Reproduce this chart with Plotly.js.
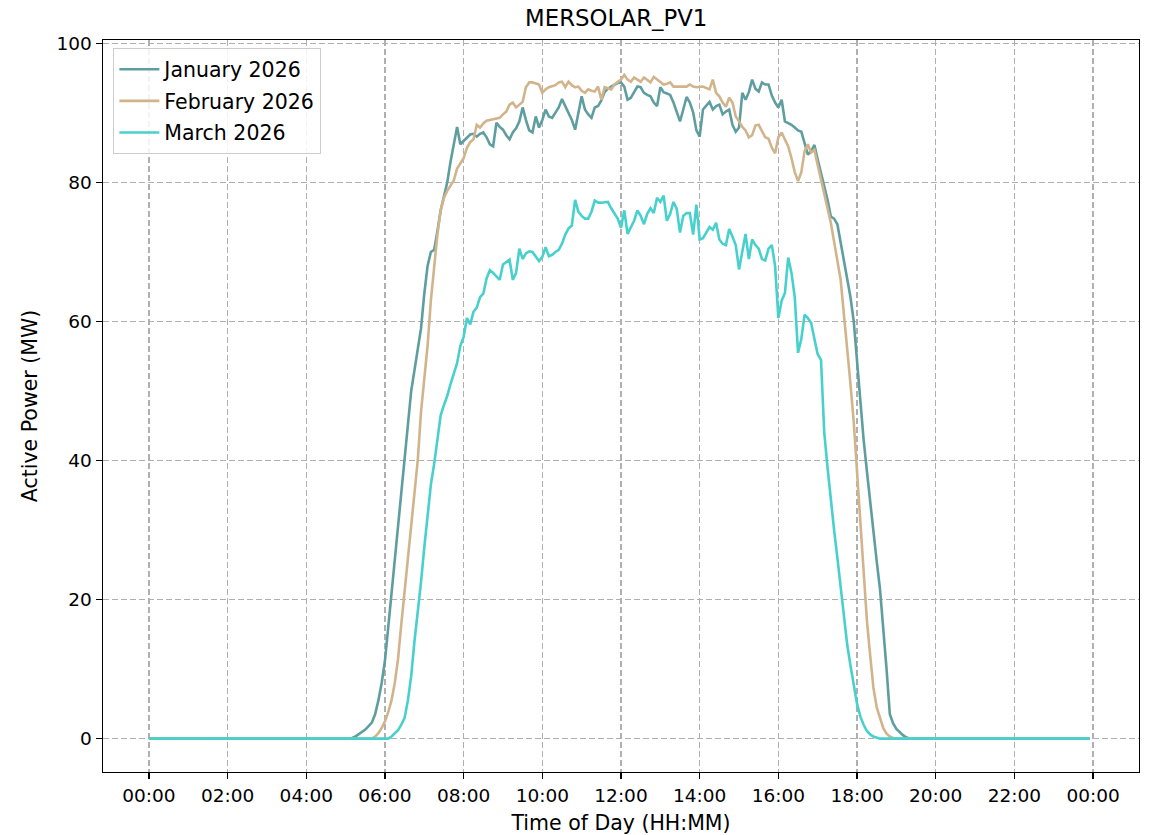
<!DOCTYPE html>
<html>
<head>
<meta charset="utf-8">
<script src="https://cdn.plot.ly/plotly-3.0.1.min.js"></script>
<style>html,body{margin:0;padding:0;background:#fff;}#chart{width:1155px;height:835px;}</style>
</head>
<body>
<div id="chart"></div>
<script>
// Series names
const seriesNames = ['January 2026', 'February 2026', 'March 2026'];

// Active power (MW), one value every 5 minutes from 00:00 to 23:55 (rows = hours)
const january2026 = [
  0,0,0,0,0,0,0,0,0,0,0,0,
  0,0,0,0,0,0,0,0,0,0,0,0,
  0,0,0,0,0,0,0,0,0,0,0,0,
  0,0,0,0,0,0,0,0,0,0,0,0,
  0,0,0,0,0,0,0,0,0,0,0,0,
  0,0,0.1,0.3,0.6,0.9,1.3,1.8,2.3,3.5,5.5,8.0,
  11.2,16,21,26,30,35.5,41,46,50,53,56,59,
  64,68,70,70.3,73,76,78,80,83,85.5,88,85.5,
  86,86.5,86.9,87,86.6,87,87.2,86.5,85.5,85.2,88.6,88,
  87.6,86.8,86.2,87.2,87.8,88.8,90.8,89,87.5,87.2,89.5,87.9,
  89,90.5,89.5,89.3,90,90.8,92,91,89.8,89,87.6,90,
  92.4,90.5,89.8,89.3,90.8,91,91.8,93,93.5,93.8,94.1,94.3,
  94.4,93.8,91.9,92.2,93,93.8,93.7,92.9,92.6,92.4,91.5,91,
  93.7,93,92.8,92.6,91.5,90,88.8,90.5,92.3,91.5,90.1,87.5,
  86.6,90.5,91,91.6,90.5,91,91.2,89.8,90.2,90.5,88.3,87.3,
  87.9,92.9,91.9,93,94.8,93.5,93.1,94.4,94.1,94.1,92.5,91.5,
  90.8,91.9,88.8,88.6,88.3,87.9,87.5,87.3,85.7,84.0,84.5,85.4,
  83.3,81.5,79.5,77.5,75.1,74.8,74,71.5,68.5,66,63.5,60,
  54,48.5,43,38.5,34,29.6,25.5,21.5,16,10,3.5,2.2,
  1.4,0.9,0.5,0.2,0,0,0,0,0,0,0,0,
  0,0,0,0,0,0,0,0,0,0,0,0,
  0,0,0,0,0,0,0,0,0,0,0,0,
  0,0,0,0,0,0,0,0,0,0,0,0,
  0,0,0,0,0,0,0,0,0,0,0,0
];

const february2026 = [
  0,0,0,0,0,0,0,0,0,0,0,0,
  0,0,0,0,0,0,0,0,0,0,0,0,
  0,0,0,0,0,0,0,0,0,0,0,0,
  0,0,0,0,0,0,0,0,0,0,0,0,
  0,0,0,0,0,0,0,0,0,0,0,0,
  0,0,0,0,0,0,0,0,0,0.3,0.8,1.5,
  2.5,3.8,5.5,8,11.5,16.5,21,26,30.5,35,40,47,
  52,56.5,63,68,72.5,76,77.8,78.8,79.5,80.3,82,82.8,
  83.5,85,85.8,86.2,88.3,87.9,88.5,88.9,89,89,89.2,89.3,
  89.8,90.2,91.2,91.5,90.8,91.2,91.6,93.7,94.4,94.4,94.3,94.1,
  92.9,93.4,93.7,93.8,94,94.4,94.5,93.7,94.5,94,93.7,93.8,
  93.2,92.9,93.4,93.2,93.1,93.8,91.9,93.7,93.5,93.4,94.1,94.5,
  94.8,95.5,94.8,94.5,95.1,94.8,94.5,95.1,94.7,94.4,95.2,94.8,
  94.4,94.1,94.2,94.4,93.8,93.8,93.7,93.7,93.8,94.1,93.8,93.7,
  93.7,93.8,93.6,93.4,94.8,92.9,92.4,91.5,90.9,92.2,91.5,89.5,
  88.8,88,87.5,86.5,86.8,88.2,88.3,87.3,86.5,86.3,85,84.2,
  86.5,87.2,86.2,85.2,83.5,81.5,80.2,81.5,84.5,85.5,84.3,84.7,
  82.5,80.4,78,76,74.2,71.5,69,66,61,56.5,51,45.5,
  38,31,23,17,12,7.3,4.5,3,1.5,0.7,0.3,0.1,
  0,0,0,0,0,0,0,0,0,0,0,0,
  0,0,0,0,0,0,0,0,0,0,0,0,
  0,0,0,0,0,0,0,0,0,0,0,0,
  0,0,0,0,0,0,0,0,0,0,0,0,
  0,0,0,0,0,0,0,0,0,0,0,0
];

const march2026 = [
  0,0,0,0,0,0,0,0,0,0,0,0,
  0,0,0,0,0,0,0,0,0,0,0,0,
  0,0,0,0,0,0,0,0,0,0,0,0,
  0,0,0,0,0,0,0,0,0,0,0,0,
  0,0,0,0,0,0,0,0,0,0,0,0,
  0,0,0,0,0,0,0,0,0,0,0,0,
  0,0,0.3,0.7,1.2,2,3,5.5,9,14,18,22.5,
  27.5,32,36.5,39.5,43,46.5,48,49.3,51,52.5,54,56.5,
  57.8,60.5,59.6,61.4,62,63.5,64,66.2,67.4,67,66.5,66,
  68.2,68.6,68.9,66,67,70.5,69,69.8,70.1,70,69.3,68.7,
  69.3,70.7,69.4,69.6,70,70.3,71.2,72.5,73.4,73.8,77.5,75.8,
  75.2,74.8,74.8,75.8,77.4,77.1,77.1,77.2,77.2,76.3,75.6,74.8,
  73.5,76,72.6,73.5,74.5,76,75.2,74,75.5,76.3,75.6,77.8,
  77.2,78.1,74.5,75.5,77.2,76.2,72.8,75.2,75.6,75.6,72.5,76.8,
  71.8,72,72.8,73.6,73.2,74.2,71.8,71.2,71,73.3,72.2,71,
  67.5,70,72.6,69,71.8,71,70.5,69,68.8,70.5,71,68,
  60.5,63,64.1,69.2,67,63.5,55.5,57.5,61,60.5,59.8,57.5,
  55.3,54.5,44,39,34,30,26,22,17.5,13.5,10.5,7.5,
  5,3.2,2,1.1,0.6,0.3,0.1,0,0,0,0,0,
  0,0,0,0,0,0,0,0,0,0,0,0,
  0,0,0,0,0,0,0,0,0,0,0,0,
  0,0,0,0,0,0,0,0,0,0,0,0,
  0,0,0,0,0,0,0,0,0,0,0,0,
  0,0,0,0,0,0,0,0,0,0,0,0
];

// Time-of-day axis: 5-minute sampling on a reference day
const referenceDay = '2026-01-01';
const sampleMinutes = 5;
const pad = n => String(n).padStart(2, '0');
const times = january2026.map((_, i) => {
  const m = i * sampleMinutes;
  return `${referenceDay} ${pad(Math.floor(m / 60))}:${pad(m % 60)}:00`;
});

const colors = ['#5F9EA0', '#D2B48C', '#48D1CC'];
const allSeries = [january2026, february2026, march2026];

const traces = allSeries.map((ys, k) => ({
  x: times,
  y: ys,
  type: 'scatter',
  mode: 'lines',
  name: seriesNames[k],
  legendgroup: 'g' + k,
  line: { color: colors[k], width: 2.6 }
}));

const FONT = 'DejaVu Sans, sans-serif';
const axisCommon = {
  showline: true, linecolor: '#000', linewidth: 1.4, mirror: true,
  ticks: 'outside', ticklen: 6, tickwidth: 1.4, tickcolor: '#000',
  showgrid: true, gridcolor: '#b0b0b0', gridwidth: 1.3, griddash: '6px,3px',
  zeroline: false,
  tickfont: { family: FONT, size: 18.5, color: '#000' }
};

const layout = {
  width: 1155, height: 835,
  margin: { l: 103, r: 16, t: 40, b: 63 },
  paper_bgcolor: '#fff', plot_bgcolor: '#fff',
  font: { family: FONT, color: '#000' },
  title: {
    text: 'MERSOLAR_PV1',
    font: { family: FONT, size: 22.8, color: '#000' },
    x: 0.5335, xanchor: 'center', y: 1 - 18.5 / 835, yref: 'container', yanchor: 'middle'
  },
  xaxis: Object.assign({}, axisCommon, {
    type: 'date',
    range: ['2025-12-31 22:50:00', '2026-01-02 01:10:00'],
    tick0: referenceDay + ' 00:00:00',
    dtick: 7200000,
    tickformat: '%H:%M',
    title: { text: 'Time of Day (HH:MM)', font: { family: FONT, size: 20.5, color: '#000' }, standoff: 11 }
  }),
  yaxis: Object.assign({}, axisCommon, {
    range: [-4.8, 100.5],
    tick0: 0, dtick: 20,
    title: { text: 'Active Power (MW)', font: { family: FONT, size: 20.5, color: '#000' }, standoff: 13 }
  }),
  showlegend: true,
  legend: {
    x: 0.0097, y: 0.989, xanchor: 'left', yanchor: 'top',
    bgcolor: 'rgba(255,255,255,0.85)', bordercolor: '#cccccc', borderwidth: 1.3,
    font: { family: FONT, size: 20.5, color: '#000' },
    traceorder: 'grouped', tracegroupgap: 2,
    itemwidth: 40
  }
};

Plotly.newPlot('chart', traces, layout, { displayModeBar: false, staticPlot: true });
</script>
</body>
</html>
